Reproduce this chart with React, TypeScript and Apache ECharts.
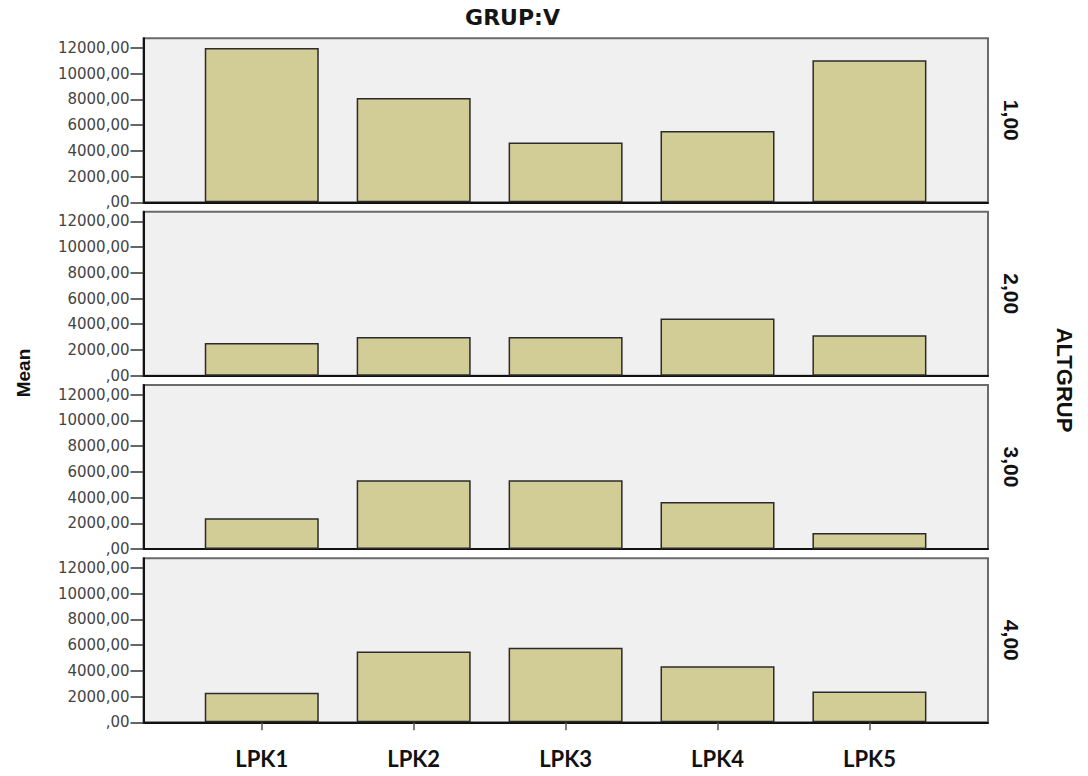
import React, { useEffect, useRef } from "react";
import * as echarts from "echarts";

const categories = ["LPK1", "LPK2", "LPK3", "LPK4", "LPK5"];
const groupLabels = ["1,00", "2,00", "3,00", "4,00"];
const group1 = [12000, 8100, 4650, 5550, 11050];
const group2 = [2550, 3000, 3000, 4450, 3150];
const group3 = [2400, 5350, 5350, 3650, 1250];
const group4 = [2300, 5500, 5800, 4350, 2400];
const groupValues = [group1, group2, group3, group4];
const yTicks = [0, 2000, 4000, 6000, 8000, 10000, 12000];
const yMax = 12750;
const titleText = "GRUP:V";
const yTitle = "Mean";
const rightTitle = "ALTGRUP";

const panelTops = [38.3, 211.7, 385, 558.3];
const panelHeight = 164;
const outerLeft = 143.5;
const outerWidth = 844.5;
const innerLeft = 185.8;
const innerWidth = 759.6;

export default function App() {
  const ref = useRef<HTMLDivElement>(null);
  useEffect(() => {
    document.body.style.margin = "0";
    if (!ref.current) return;
    const chart = echarts.init(ref.current, null, { renderer: "svg" });
    const grid: any[] = [];
    const xAxis: any[] = [];
    const yAxis: any[] = [];
    const series: any[] = [];
    const graphic: any[] = [];
    groupValues.forEach((vals, i) => {
      const top = panelTops[i];
      grid.push({
        left: outerLeft,
        width: outerWidth,
        top,
        height: panelHeight,
        show: true,
        backgroundColor: "#f0f0f0",
        borderColor: "#6a6a6a",
        borderWidth: 2,
      });
      grid.push({ left: innerLeft, width: innerWidth, top, height: panelHeight });
      xAxis.push({
        gridIndex: 2 * i,
        type: "category",
        data: [""],
        axisLine: { show: true, lineStyle: { color: "#111", width: 2 } },
        axisTick: { show: false },
        axisLabel: { show: false },
        splitLine: { show: false },
      });
      yAxis.push({
        gridIndex: 2 * i,
        type: "value",
        min: 0,
        max: yMax,
        axisLine: { show: true, lineStyle: { color: "#111", width: 2 } },
        axisTick: {
          show: true,
          length: 13,
          customValues: yTicks,
          lineStyle: { color: "#333", width: 1.5 },
        },
        axisLabel: {
          customValues: yTicks,
          margin: 14,
          fontFamily: "DejaVu Sans",
          fontSize: 15,
          color: "#444",
          formatter: (v: number) => (v === 0 ? ",00" : v + ",00"),
        },
        splitLine: { show: false },
      });
      xAxis.push({
        gridIndex: 2 * i + 1,
        type: "category",
        data: categories,
        axisLine: { show: false },
        axisTick: {
          show: i === 3,
          alignWithLabel: true,
          length: 8,
          lineStyle: { color: "#555", width: 1.5 },
        },
        axisLabel: {
          show: i === 3,
          margin: 25,
          fontFamily: "Lato",
          fontWeight: "bold",
          fontSize: 22,
          color: "#111",
        },
        splitLine: { show: false },
      });
      yAxis.push({
        gridIndex: 2 * i + 1,
        type: "value",
        min: 0,
        max: yMax,
        show: false,
      });
      series.push({
        type: "bar",
        xAxisIndex: 2 * i + 1,
        yAxisIndex: 2 * i + 1,
        data: vals,
        barWidth: 114,
        itemStyle: { color: "#d2cd96", borderColor: "#2b2b2b", borderWidth: 1.5 },
      });
      graphic.push({
        type: "text",
        x: 1011,
        y: top + panelHeight / 2,
        rotation: -Math.PI / 2,
        style: {
          text: groupLabels[i],
          fontFamily: "Liberation Sans",
          fontWeight: "bold",
          fontSize: 21,
          fill: "#111",
          align: "center",
          verticalAlign: "middle",
        },
      });
    });
    graphic.push({
      type: "text",
      x: 23,
      y: 373,
      rotation: -1.5 * Math.PI,
      style: {
        text: yTitle,
        fontFamily: "Liberation Sans",
        fontWeight: "bold",
        fontSize: 19,
        fill: "#111",
        align: "center",
        verticalAlign: "middle",
      },
    });
    graphic.push({
      type: "text",
      x: 512.5,
      y: 17.5,
      style: {
        text: titleText,
        fontFamily: "DejaVu Sans",
        fontWeight: "bold",
        fontSize: 22,
        fill: "#151515",
        align: "center",
        verticalAlign: "middle",
      },
    });
    graphic.push({
      type: "text",
      x: 1064,
      y: 380,
      rotation: -Math.PI / 2,
      style: {
        text: rightTitle,
        fontFamily: "Liberation Sans",
        fontWeight: "bold",
        fontSize: 22,
        fill: "#111",
        align: "center",
        verticalAlign: "middle",
      },
    });
    chart.setOption({
      animation: false,
      backgroundColor: "#ffffff",
      grid,
      xAxis,
      yAxis,
      series,
      graphic,
    });
    return () => chart.dispose();
  }, []);
  return <div ref={ref} style={{ width: 1088, height: 776 }} />;
}
